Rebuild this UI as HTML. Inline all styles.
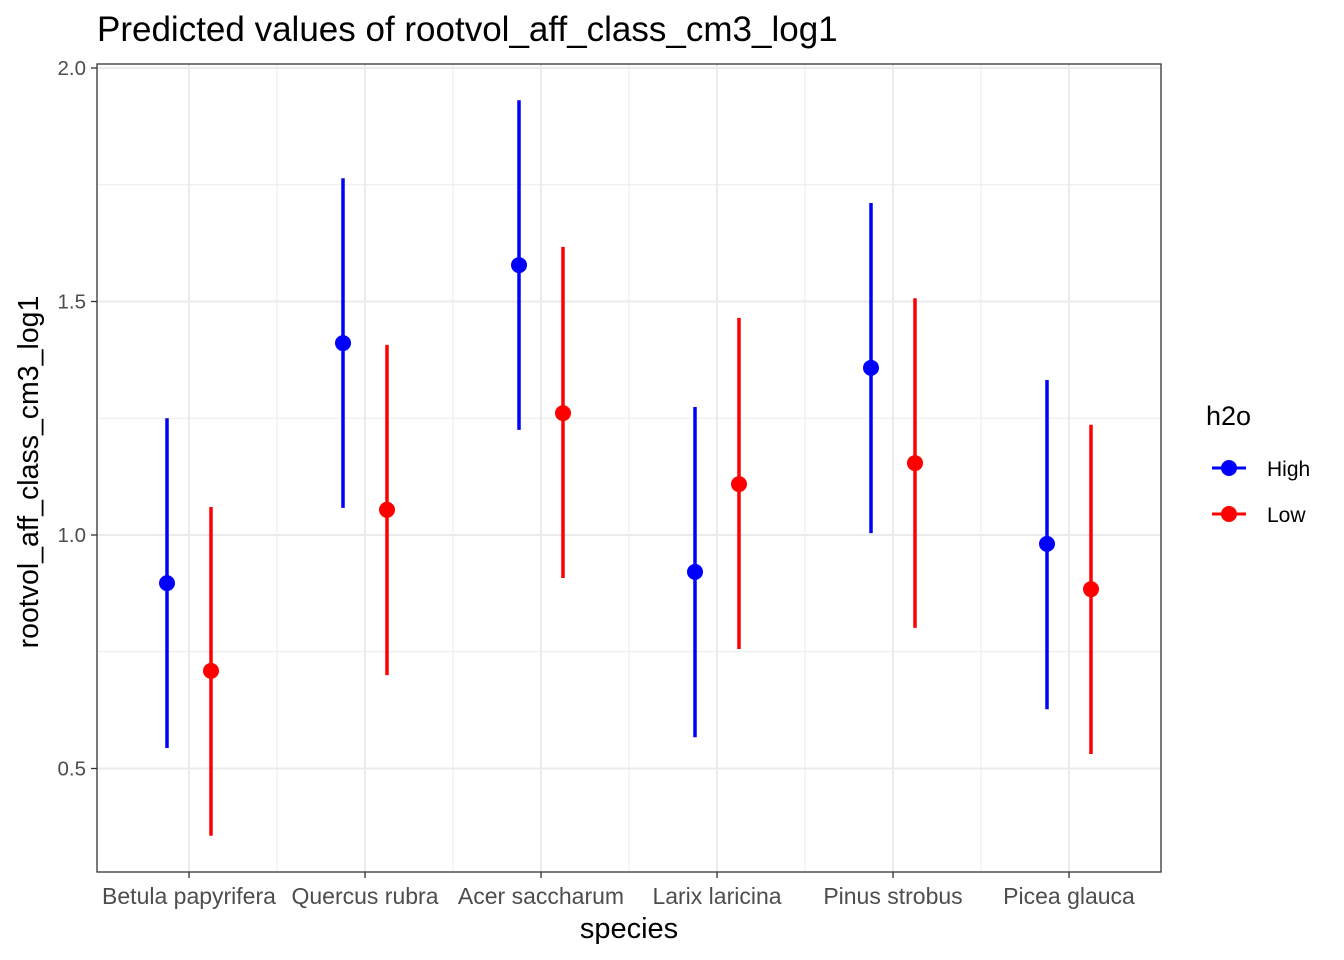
<!DOCTYPE html>
<html><head><meta charset="utf-8"><style>
body{margin:0;background:#fff;}
svg{display:block;font-family:"Liberation Sans",sans-serif;}
</style></head><body>
<svg id="chart" width="1344" height="960">
<text x="97" y="41" font-size="35" fill="#000">Predicted values of rootvol_aff_class_cm3_log1</text>
<rect x="97" y="64" width="1064" height="808" fill="#fff"/>
<g id="grid"></g>
<g id="marks"></g>
<rect x="97" y="64" width="1064" height="808" fill="none" stroke="#333" stroke-width="1.3"/>
<g id="axes"></g>
<text x="629" y="938" font-size="29" text-anchor="middle" fill="#000">species</text>
<text transform="translate(38,472) rotate(-90)" font-size="28.5" text-anchor="middle" fill="#000">rootvol_aff_class_cm3_log1</text>
<g>
<text x="1206" y="425" font-size="27" fill="#000">h2o</text>
<g>
<line x1="1212" y1="468" x2="1246" y2="468" stroke="#0000ff" stroke-width="3"/>
<circle cx="1229" cy="468" r="8" fill="#0000ff"/>
<text x="1267" y="476" font-size="21" fill="#000">High</text></g>
<g>
<line x1="1212" y1="514" x2="1246" y2="514" stroke="#ff0000" stroke-width="3"/>
<circle cx="1229" cy="514" r="8" fill="#ff0000"/>
<text x="1267" y="522" font-size="21" fill="#000">Low</text></g>
</g>
</svg>
<script>
const categories=["Betula papyrifera","Quercus rubra","Acer saccharum","Larix laricina","Pinus strobus","Picea glauca"];
const highVals=[0.897,1.411,1.578,0.921,1.358,0.981];
const highLo=[0.544,1.058,1.225,0.567,1.004,0.627];
const highHi=[1.25,1.764,1.931,1.274,1.711,1.332];
const lowVals=[0.709,1.054,1.261,1.109,1.154,0.884];
const lowLo=[0.356,0.700,0.908,0.756,0.801,0.531];
const lowHi=[1.06,1.407,1.617,1.465,1.507,1.236];
const yTicks=[0.5,1.0,1.5,2.0];
const yTickLabels=["0.5","1.0","1.5","2.0"];
const yMinor=[0.75,1.25,1.75];

const NS="http://www.w3.org/2000/svg";
const y=v=>535-(v-1)*467;
const x=i=>189+i*176;
function mk(tag,attrs,parent){const e=document.createElementNS(NS,tag);for(const k in attrs)e.setAttribute(k,attrs[k]);document.getElementById(parent).appendChild(e);return e;}
yMinor.forEach(v=>{const e=mk('line',{x1:97,x2:1161,y1:y(v),y2:y(v),stroke:'#ebebeb','stroke-width':1},'grid');

});
for(let i=0;i<categories.length-1;i++){const e=mk('line',{x1:x(i)+88,x2:x(i)+88,y1:64,y2:872,stroke:'#ebebeb','stroke-width':1},'grid');

}
yTicks.forEach((v,i)=>{const e=mk('line',{x1:97,x2:1161,y1:y(v),y2:y(v),stroke:'#ebebeb','stroke-width':2},'grid');


const t=mk('line',{x1:91,x2:97,y1:y(v),y2:y(v),stroke:'#333','stroke-width':1.3},'axes');


const l=mk('text',{x:86,y:y(v)+7,'font-size':20.5,'text-anchor':'end',fill:'#4d4d4d'},'axes');l.textContent=yTickLabels[i];

});
categories.forEach((c,i)=>{const e=mk('line',{x1:x(i),x2:x(i),y1:64,y2:872,stroke:'#ebebeb','stroke-width':2},'grid');


const t=mk('line',{x1:x(i),x2:x(i),y1:872,y2:878,stroke:'#333','stroke-width':1.3},'axes');


const l=mk('text',{x:x(i),y:904,'font-size':23,'text-anchor':'middle',fill:'#4d4d4d'},'axes');l.textContent=c;

});
function series(vals,lo,hi,off,col,name){vals.forEach((v,i)=>{const cx=x(i)+off;
const ln=mk('line',{x1:cx,x2:cx,y1:y(lo[i]),y2:y(hi[i]),stroke:col,'stroke-width':3.5},'marks');


const p=mk('circle',{cx:cx,cy:y(v),r:8,fill:col},'marks');

});}
series(highVals,highLo,highHi,-22,'#0000ff','high');
series(lowVals,lowLo,lowHi,22,'#ff0000','low');
</script>
</body></html>
